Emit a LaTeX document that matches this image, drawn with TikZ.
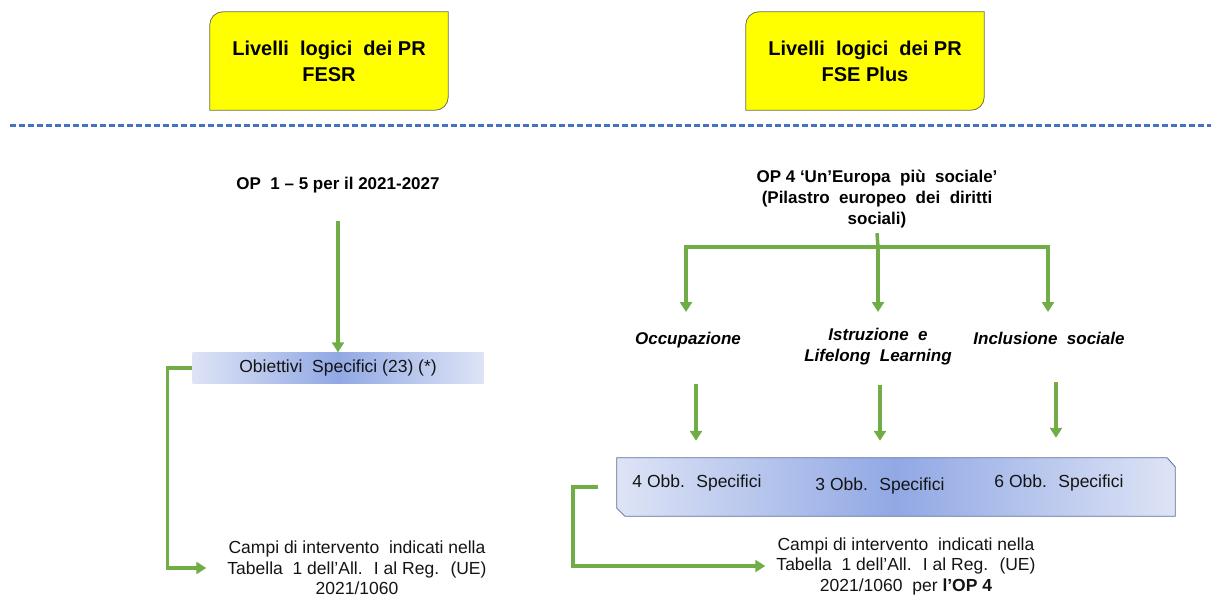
\documentclass[tikz,border=0pt]{standalone}
\usepackage{fontspec}
\setmainfont{Liberation Sans}
\usetikzlibrary{arrows.meta,backgrounds}
\definecolor{ogreen}{RGB}{112,173,71}
\definecolor{dashblue}{RGB}{68,114,196}
\definecolor{ybox}{RGB}{255,255,0}
\definecolor{yedge}{RGB}{110,110,80}
\definecolor{gradlight}{RGB}{222,228,246}
\definecolor{graddark}{RGB}{145,168,228}
\definecolor{bedge}{RGB}{90,110,150}
\definecolor{txt}{RGB}{20,20,20}
\tikzset{
  titletext/.style={font=\fontsize{20}{26}\selectfont\bfseries, align=center, text=black,
     minimum width=238pt, minimum height=98pt, inner sep=0pt},
  boldtext/.style={font=\fontsize{17}{21}\selectfont\bfseries, align=center, text=black, inner sep=1pt},
  labtext/.style={font=\fontsize{17}{21}\selectfont\bfseries\itshape, align=center, text=black, inner sep=1pt},
  normtext/.style={font=\fontsize{17.5}{20.5}\selectfont, align=center, text=txt, inner sep=1pt},
  gline/.style={draw=ogreen, line width=3.5pt},
  garrow/.style={gline, -{Triangle[width=12pt,length=10pt]}},
  ybg/.style={fill=ybox, draw=yedge, line width=0.8pt},
  gradfill/.style={left color=gradlight, right color=gradlight, middle color=graddark},
}
\begin{document}
\begin{tikzpicture}[x=1pt,y=-1pt]
\useasboundingbox (0,0) rectangle (1211,599);
% title boxes
\node[titletext] (t1) at (329,61) {Livelli \ logici \ dei PR\\FESR};
\node[titletext] (t2) at (865,61) {Livelli \ logici \ dei PR\\FSE Plus};
\begin{scope}[on background layer]
\foreach \n in {t1,t2}{
  \path[ybg] (\n.south west) -- ([yshift=-13pt]\n.north west)
    arc[start angle=180,end angle=90,radius=13pt] -- (\n.north east)
    -- ([yshift=13pt]\n.south east) arc[start angle=0,end angle=-90,radius=13pt] -- cycle;
}
\end{scope}
% dashed separator
\coordinate (dl) at (10,126);
\coordinate (dr) at (1211,126);
\draw[dashblue, line width=3pt, dash pattern=on 6pt off 3pt] (dl) -- (dr);

% ---------- left column
\node[boldtext] (op15) at (338,185) {OP \ 1 -- 5 per il 2021-2027};
\node[normtext, minimum width=291pt, minimum height=31pt, inner sep=0pt, gradfill] (obj) at (338,368)
      {Obiettivi \ Specifici (23) (*)};
\node[normtext] (campiL) at (357,568) {Campi di intervento \ indicati nella\\Tabella \ 1 dell’All. \ I al Reg. \ (UE)\\2021/1060};
\draw[garrow] ([yshift=-27pt]op15.south) -- (obj.north);
\draw[garrow] (obj.west) -- ++(-25,0) |- ([xshift=-20pt]campiL.west);

% ---------- right column
\node[boldtext] (op4) at (877,199) {OP 4 ‘Un’Europa \ più \ sociale’\\(Pilastro \ europeo \ dei \ diritti\\sociali)};
\node[labtext] (occ) at (688,340) {Occupazione};
\node[labtext] (istr) at (878,347) {Istruzione \ e\\Lifelong \ Learning};
\node[labtext] (incl) at (1049,338) {Inclusione \ sociale};
\coordinate (hub) at (878,247);
\draw[gline] ([yshift=-4pt]op4.south) -- (hub);
\draw[garrow] (hub) -| (686,312);
\draw[garrow] (hub) -- (878,312);
\draw[garrow] (hub) -| (1048,312);

\node[minimum width=558pt, minimum height=58pt, inner sep=0pt] (big) at (896,487) {};
\begin{scope}[on background layer]
\shadedraw[gradfill, draw=bedge, line width=0.8pt]
  (big.north west) -- ([xshift=-8pt]big.north east) -- ([yshift=-9pt]big.north east)
  -- (big.south east) -- ([xshift=8pt]big.south west) -- ([yshift=8pt]big.south west) -- cycle;
\end{scope}
\node[normtext] (o4) at (697,483) {4 Obb. \ Specifici};
\node[normtext] (o3) at (880,486) {3 Obb. \ Specifici};
\node[normtext] (o6) at (1059,483) {6 Obb. \ Specifici};

\draw[garrow] ([xshift=8pt,yshift=-35pt]occ.south) -- ([xshift=8pt,yshift=17pt]occ.south |- big.north);
\draw[garrow] ([xshift=2pt]istr.south |- 0,385) -- ([xshift=2pt,yshift=17pt]istr.south |- big.north);
\draw[garrow] ([xshift=7pt,yshift=-37pt]incl.south) -- ([xshift=7pt,yshift=20pt]incl.south |- big.north);

\node[normtext] (campiR) at (906,566) {Campi di intervento \ indicati nella\\Tabella \ 1 dell’All. \ I al Reg. \ (UE)\\2021/1060 \ per \textbf{l’OP 4}};
\draw[garrow] ([xshift=-19pt]big.west) -- ++(-25,0) |- ([xshift=-10pt]campiR.west);
\end{tikzpicture}
\end{document}
